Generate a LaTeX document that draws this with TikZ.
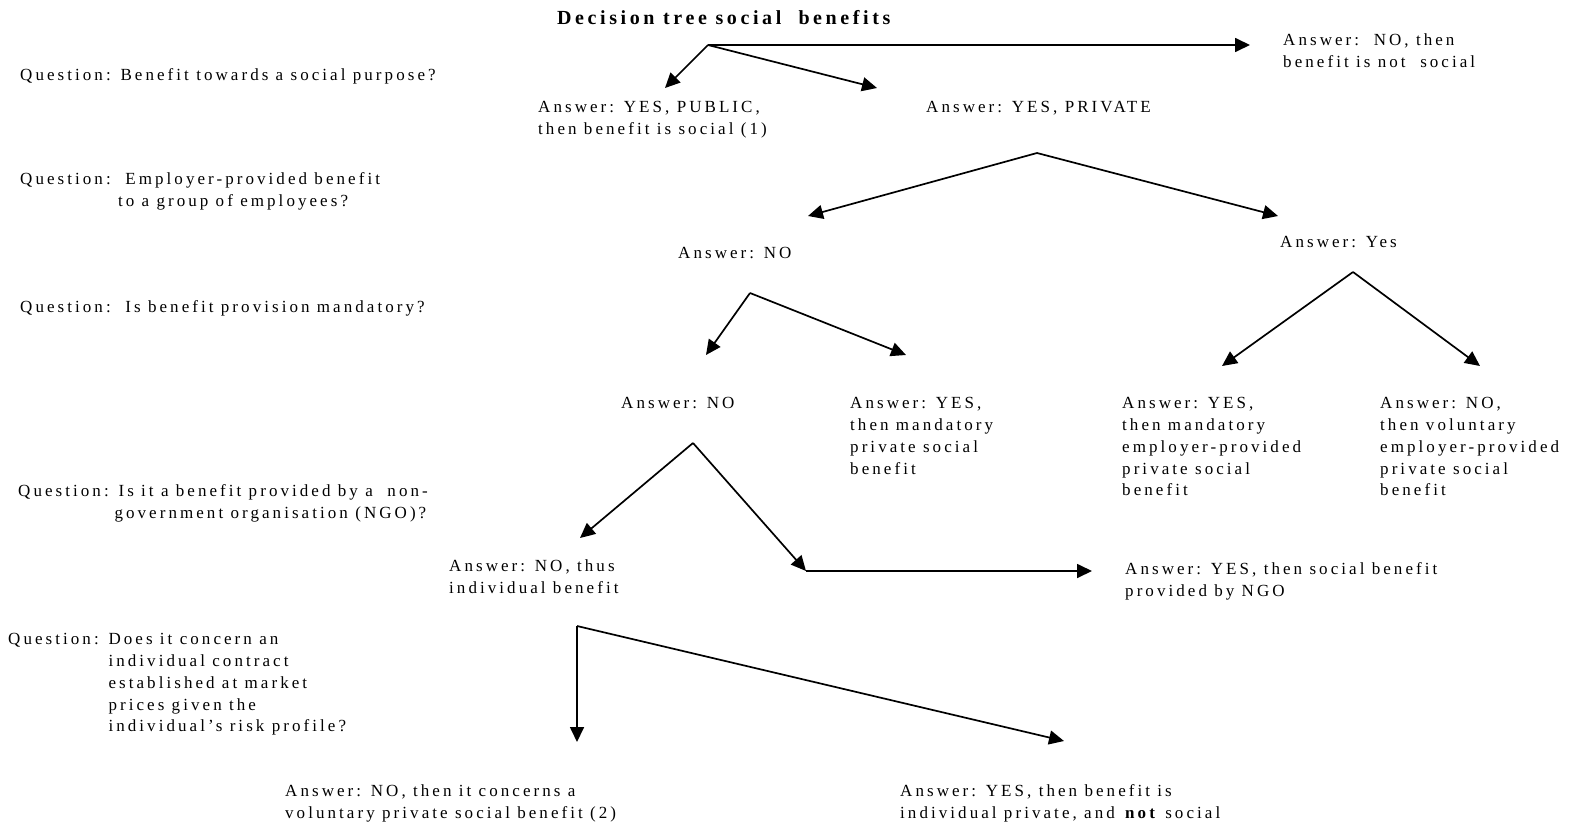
\documentclass[tikz,border=0pt]{standalone}
\usepackage{fontspec}
\setmainfont{Liberation Serif}[LetterSpace=18]
\usetikzlibrary{arrows.meta}

\tikzset{
  txt/.style={anchor=north west, inner sep=0pt, align=left, yshift=-2.5pt, font=\fontsize{17}{21.7}\selectfont},
  arr/.style={-{Triangle[length=15pt,width=14pt]}, line width=1.7pt}
}

\begin{document}
\begin{tikzpicture}[x=1pt,y=-1pt]
  \useasboundingbox (0,0) rectangle (1570,824);
  \node[txt, font=\fontsize{20}{24}\selectfont\bfseries] (title) at (557,8) {Decision tree social\ \ benefits};
  % questions
  \node[txt] (q1) at (20,66) {Question: Benefit towards a social purpose?};
  \node[txt] (q2) at (20,170) {Question:\ \ Employer-provided benefit\\\phantom{Question:\ }to a group of employees?};
  \node[txt] (q3) at (20,298) {Question:\ \ Is benefit provision mandatory?};
  \node[txt] (q4) at (18,482) {Question: Is it a benefit provided by a\ \ non-\\\phantom{Question: }\hspace*{-4pt}government organisation (NGO)?};
  \node[txt] (q5) at (8,631) {Question: Does it concern an\\\phantom{Question: }individual contract\\\phantom{Question: }established at market\\\phantom{Question: }prices given the\\\phantom{Question: }individual's risk profile?};
  % answers
  \node[txt] (a1no) at (1283,31) {Answer:\ \ NO, then\\benefit is not\ \ social};
  \node[txt] (a1pub) at (538,99) {Answer: YES, PUBLIC,\\then benefit is social (1)};
  \node[txt] (a1priv) at (926,99) {Answer: YES, PRIVATE};
  \node[txt] (a2no) at (678,245) {Answer: NO};
  \node[txt] (a2yes) at (1280,234) {Answer: Yes};
  \node[txt] (a3no) at (621,395) {Answer: NO};
  \node[txt] (a3yes) at (850,395) {Answer: YES,\\then mandatory\\private social\\benefit};
  \node[txt] (a4yes) at (1122,395) {Answer: YES,\\then mandatory\\employer-provided\\private social\\benefit};
  \node[txt] (a4no) at (1380,395) {Answer: NO,\\then voluntary\\employer-provided\\private social\\benefit};
  \node[txt] (a5no) at (449,557) {Answer: NO, thus\\individual benefit};
  \node[txt] (a5yes) at (1125,560) {Answer: YES, then social benefit\\provided by NGO};
  \node[txt] (a6no) at (285,782) {Answer: NO, then it concerns a\\voluntary private social benefit (2)};
  \node[txt] (a6yes) at (900,782) {Answer: YES, then benefit is\\individual private, and \textbf{not} social};
  % forks and arrow ends
  \coordinate (f1) at (708,45);
  \coordinate (f2) at (1037,153);
  \coordinate (f3) at (750,293);
  \coordinate (f4) at (1353,272);
  \coordinate (f5) at (693,443);
  \coordinate (f6) at (577,626);
  \coordinate (bend) at (806,571);
  \draw[arr] (f1) -- (1250,45);
  \draw[arr] (f1) -- (665,88);
  \draw[arr] (f1) -- (877,88);
  \draw[arr] (f2) -- (808,216);
  \draw[arr] (f2) -- (1278,216);
  \draw[arr] (f3) -- (706,355);
  \draw[arr] (f3) -- (906,355);
  \draw[arr] (f4) -- (1222,366);
  \draw[arr] (f4) -- (1480,366);
  \draw[arr] (f5) -- (580,538);
  \draw[arr] (f5) -- (bend);
  \draw[arr] (bend) -- (1092,571);
  \draw[arr] (f6) -- (577,742);
  \draw[arr] (f6) -- (1064,741);
\end{tikzpicture}
\end{document}
